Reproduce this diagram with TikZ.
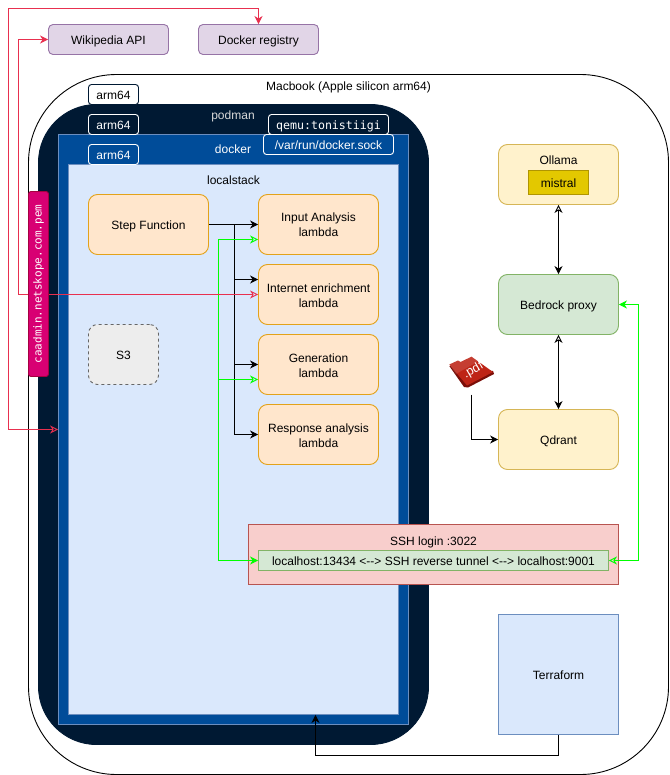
\documentclass[tikz,border=0pt]{standalone}
\usepackage{fontspec}
\setmainfont{Liberation Sans}
\setmonofont{DejaVu Sans Mono}
\usetikzlibrary{arrows.meta,calc}
\definecolor{pod}{HTML}{001933}
\definecolor{dock}{HTML}{004C99}
\definecolor{bluef}{HTML}{DAE8FC}
\definecolor{blues}{HTML}{6C8EBF}
\definecolor{orf}{HTML}{FFE6CC}
\definecolor{ors}{HTML}{E3A21A}
\definecolor{yef}{HTML}{FFF2CC}
\definecolor{yes}{HTML}{D6B656}
\definecolor{grf}{HTML}{D5E8D4}
\definecolor{grs}{HTML}{82B366}
\definecolor{puf}{HTML}{E1D5E7}
\definecolor{pus}{HTML}{9673A6}
\definecolor{ref}{HTML}{F8CECC}
\definecolor{res}{HTML}{B85450}
\definecolor{mif}{HTML}{E3C800}
\definecolor{mis}{HTML}{B09500}
\definecolor{pem}{HTML}{D80073}
\definecolor{pems}{HTML}{A50040}
\definecolor{redl}{HTML}{E8304F}
\definecolor{grnl}{HTML}{00FF00}
\definecolor{pdfa}{HTML}{BE2416}
\definecolor{pdfb}{HTML}{7A0E08}
\newcommand{\txtstrut}{\rule[-2.5pt]{0pt}{15pt}}
\newcommand{\twolines}[2]{\makebox[0pt]{\raisebox{7.5pt}[0pt][0pt]{#1}}\makebox[0pt]{\raisebox{-7.5pt}[0pt][0pt]{#2}}}
\tikzset{
  base/.style={draw,rectangle,inner sep=0pt,line width=0.9pt,align=center,font=\fontsize{12}{15}\selectfont,
    execute at begin node=\txtstrut,execute at end node=\txtstrut},
  rbox/.style={base,rounded corners=9pt,minimum width=120pt,minimum height=60pt},
  orange/.style={rbox,fill=orf,draw=ors},
  arch/.style={base,rounded corners=3pt,minimum width=50pt,minimum height=20pt},
  lab/.style={font=\fontsize{12}{15}\selectfont,inner sep=0pt,execute at begin node=\txtstrut},
  conn/.style={line width=0.9pt},
  solidtip/.tip={Stealth[length=8pt,width=8pt,inset=2.5pt]},
  opentip/.tip={Stealth[length=8pt,width=8pt,inset=2.5pt,open]},
}
\begin{document}
\begin{tikzpicture}[x=1pt,y=-1pt]
\useasboundingbox (0,0) rectangle (669,775);
\fill[white] (0,0) rectangle (669,775);
% containers
\node[base,draw=black,fill=white,rounded corners=88pt,minimum width=640pt,minimum height=700pt] (mac) at (348.5,424.5) {};
\node[base,draw=pod,fill=pod,rounded corners=58pt,minimum width=390pt,minimum height=640pt] (podman) at (233.5,424.5) {};
\node[base,draw=blues,fill=dock,minimum width=350pt,minimum height=590pt] (docker) at (233.5,429.5) {};
\node[base,draw=blues,fill=bluef,minimum width=330pt,minimum height=550pt] (local) at (233.5,439.5) {};
\node[lab] (maclab) at (348.5,86) {Macbook (Apple silicon arm64)};
\node[lab,text=white!85!black] (podlab) at (233,115) {podman};
\node[lab,text=white] (doclab) at (233,149) {docker};
\node[lab] (loclab) at (233.5,180) {localstack};
% tags
\node[arch,draw=pod,fill=white] (a1) at (113.5,94.5) {arm64};
\node[arch,draw=white,fill=pod,text=white] (a2) at (113.5,124.5) {arm64};
\node[arch,draw=white,fill=dock,text=white] (a3) at (113.5,154.5) {arm64};
\node[arch,draw=white,fill=pod,text=white,minimum width=120pt,font=\ttfamily\fontsize{11.6}{13}\selectfont] (qemu) at (328.5,124.5) {qemu:tonistiigi};
\node[arch,draw=white,fill=dock,text=white,minimum width=130pt] (sock) at (328.5,144.5) {/var/run/docker.sock};
% external
\node[rbox,fill=puf,draw=pus,minimum height=30pt,rounded corners=4.5pt] (wiki) at (108.5,39.5) {Wikipedia API};
\node[rbox,fill=puf,draw=pus,minimum height=30pt,rounded corners=4.5pt] (reg) at (258.5,39.5) {Docker registry};
% lambdas
\node[orange] (step) at (148.5,224.5) {Step Function};
\node[orange] (input) at (318.5,224.5) {\twolines{Input Analysis}{lambda}};
\node[orange] (inet) at (318.5,294.5) {\twolines{Internet enrichment}{lambda}};
\node[orange] (gen) at (318.5,364.5) {\twolines{Generation}{lambda}};
\node[orange] (resp) at (318.5,434.5) {\twolines{Response analysis}{lambda}};
\node[base,draw=black!60,fill=black!7,dashed,rounded corners=9pt,minimum width=70pt,minimum height=60pt] (s3) at (123.5,354.5) {S3};
% right column
\node[rbox,fill=yef,draw=yes] (ollama) at (558.5,174.5) {};
\node[lab] (ollab) at (558.5,160) {Ollama};
\node[base,fill=mif,draw=mis,minimum width=60pt,minimum height=24pt] (mistral) at (558.5,182.5) {mistral};
\node[rbox,fill=grf,draw=grs] (bed) at (558.5,304.5) {Bedrock proxy};
\node[rbox,fill=yef,draw=yes] (qd) at (558.5,439.5) {Qdrant};
\node[base,fill=bluef,draw=blues,minimum width=120pt,minimum height=120pt] (tf) at (558.5,674.5) {Terraform};
% ssh
\node[base,fill=ref,draw=res,minimum width=370pt,minimum height=60pt] (ssh) at (433.5,554.5) {};
\node[lab] (sshlab) at (433.5,540) {SSH login :3022};
\node[base,fill=grf,draw=grs,minimum width=350pt,minimum height=20pt] (tun) at (433.5,560.5) {localhost:13434 <-{}-> SSH reverse tunnel <-{}-> localhost:9001};
% pdf icon
\coordinate (pdfout) at (471.5,394.5);
\fill[pdfb] (449.3,366) -- (464,387) -- (468,387.5) -- (494,374) -- (493,371) -- cycle;
\fill[pdfa] (449.3,364.5) -- (458,360.5) -- (460.5,362) -- (471.5,356.7) -- (493,372) -- (467,385.5) -- cycle;
\fill[white,opacity=.12] (449.3,364.5) -- (458,360.5) -- (460.5,362) -- (471.5,356.7) -- (478,361.5) -- (456,374) -- cycle;
\node[lab,text=white,rotate=30,font=\fontsize{12.5}{14}\selectfont] (pdf) at (472.5,369) {.pdf};
% connectors
\coordinate (bus) at ($(step.east)+(25,0)$);
\coordinate (gbus) at ($(tun.west)+(-40,0)$);
\draw[conn,-solidtip] (step.east) -- (input.west);
\draw[conn,-solidtip] (bus) |- ($(inet.west)+(0,-15)$);
\draw[conn,-solidtip] (bus) |- (gen.west);
\draw[conn,-solidtip] (bus) |- (resp.west);
\draw[conn,grnl,solidtip-opentip] (tun.west) -- (gbus) |- ($(input.west)+(0,15)$);
\draw[conn,grnl,-opentip] (gbus) |- ($(gen.west)+(0,15)$);
\draw[conn,grnl,opentip-solidtip] (tun.east) -- ++(29.7,0) |- (bed.east);
\draw[conn,opentip-solidtip] (ollama.south) -- (bed.north);
\draw[conn,opentip-solidtip] (bed.south) -- (qd.north);
\draw[conn,-solidtip] (pdfout) |- (qd.west);
\draw[conn,-solidtip] (tf.south) -- ++(0,20) -| ($(local.south)+(82,0)$);
\draw[conn,redl,opentip-solidtip] (inet.west) -- ++(-240,0) |- (wiki.west);
\draw[conn,redl,opentip-solidtip] ($(docker.west)+(0,0)$) -- ++(-50,0) |- ($(reg.north)+(0,-16)$) -- (reg.north);
% pem tag on top of the red line
\node[draw=pems,fill=pem,rounded corners=2.5pt,line width=0.9pt,inner sep=0pt,minimum width=20pt,minimum height=185pt] (pemtag) at (38.5,284) {};
\node[rotate=90,text=white,font=\ttfamily\fontsize{11}{13}\selectfont,inner sep=0pt] (pemtxt) at (pemtag.center) {caadmin.netskope.com.pem};
\end{tikzpicture}
\end{document}
